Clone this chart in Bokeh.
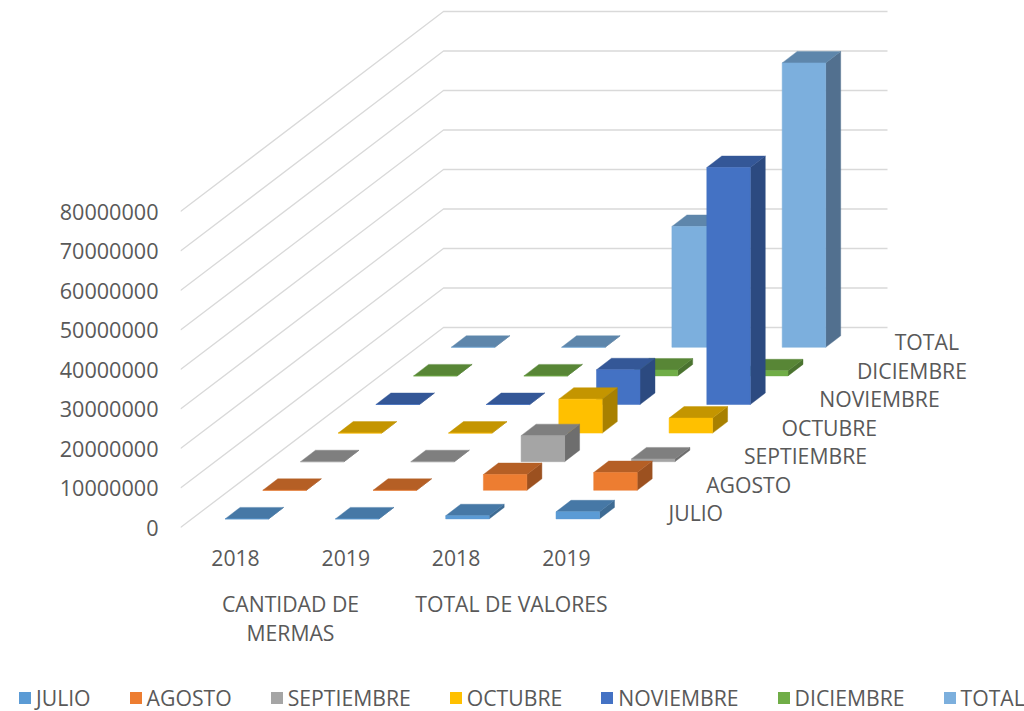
from bokeh.plotting import figure
from bokeh.layouts import column
from bokeh.models import Legend, LegendItem, FixedTicker, NumeralTickFormatter, Range1d
from bokeh.core.properties import value
from bokeh.embed import file_html
from bokeh.resources import INLINE

# ---- data ----
series = ["JULIO", "AGOSTO", "SEPTIEMBRE", "OCTUBRE", "NOVIEMBRE", "DICIEMBRE", "TOTAL"]
years = ["2018", "2019", "2018", "2019"]
group_labels = ["CANTIDAD DE", "MERMAS", "TOTAL DE VALORES"]
y_ticks = [0, 10000000, 20000000, 30000000, 40000000, 50000000, 60000000, 70000000, 80000000]

julio = [3000, 3200, 800000, 1800000]
agosto = [2800, 3000, 4000000, 4500000]
septiembre = [2700, 3100, 6600000, 700000]
octubre = [2900, 3300, 8600000, 3800000]
noviembre = [3100, 3000, 8800000, 60000000]
diciembre = [2600, 2900, 1500000, 1300000]
total = [17300, 18500, 30600000, 72000000]
values = [julio, agosto, septiembre, octubre, noviembre, diciembre, total]

# ---- styles ----
front = ["#5B9BD5", "#ED7D31", "#A5A5A5", "#FFC000", "#4472C4", "#70AD47", "#7CAFDD"]
top = ["#4678A6", "#B55F25", "#7F7F7F", "#C49500", "#345797", "#588636", "#5E86AB"]
side = ["#3E6B93", "#9C5120", "#6E6E6E", "#A88000", "#2C4A80", "#4A732F", "#52708F"]
FONT = "Open Sans"
TXT = "#595959"
FS = "21.2px"

# ---- oblique projection (reference pixels) ----
PX = 1e7 / 39.5           # value units per pixel
FLOOR_Y = 527
BAR_X0, BAR_Y0 = 224.6, 518.4
CAT_DX = 110.3
SER_DX, SER_DY = 37.7, 28.6
BAR_W, DEPTH_DX, DEPTH_DY = 43.5, 15, 11.5
WALL_X0, WALL_X1, WALL_X2 = 180, 443, 887
WALL_DY = 200
MAIN_H, LEGEND_H = 680, 31


def Y(pix):
    return (FLOOR_Y - pix) * PX


p = figure(width=1024, height=MAIN_H, output_backend="svg", toolbar_location=None,
           x_range=Range1d(WALL_X0, 1024), y_range=Range1d(Y(MAIN_H), Y(0)),
           min_border_left=WALL_X0, min_border_right=0, min_border_top=0, min_border_bottom=0,
           x_axis_location=None, outline_line_color=None)
p.frame_align = False
p.xgrid.visible = False
p.ygrid.visible = False
p.background_fill_color = None
p.border_fill_color = "white"

ax = p.yaxis[0]
ax.ticker = FixedTicker(ticks=y_ticks)
ax.formatter = NumeralTickFormatter(format="0")
ax.axis_line_color = None
ax.major_tick_line_color = None
ax.minor_tick_line_color = None
ax.major_tick_in = 0
ax.major_tick_out = 0
ax.major_label_standoff = 22
ax.major_label_text_font = FONT
ax.major_label_text_font_size = "21.6px"
ax.major_label_text_color = TXT

# gridlines: wall + left side
for v in y_ticks:
    p.line([WALL_X0, WALL_X1, WALL_X2], [v, v + WALL_DY * PX, v + WALL_DY * PX],
           line_color="#D9D9D9", line_width=1.3)

# bars, back to front
for s in range(len(series) - 1, -1, -1):
    tops_x, tops_y, sides_x, sides_y, fronts_x, fronts_y = [], [], [], [], [], []
    for c, val in enumerate(values[s]):
        x0 = BAR_X0 + c * CAT_DX + s * SER_DX
        x1 = x0 + BAR_W
        b = Y(BAR_Y0 - s * SER_DY)
        t = b + val
        dx, dy = DEPTH_DX, DEPTH_DY * PX
        fronts_x.append([x0, x1, x1, x0])
        fronts_y.append([b, b, t, t])
        tops_x.append([x0, x1, x1 + dx, x0 + dx])
        tops_y.append([t, t, t + dy, t + dy])
        sides_x.append([x1, x1 + dx, x1 + dx, x1])
        sides_y.append([b, b + dy, t + dy, t])
    p.patches(sides_x, sides_y, fill_color=side[s], line_color=side[s], line_alpha=0.5, line_width=0.8)
    p.patches(tops_x, tops_y, fill_color=top[s], line_color=top[s], line_alpha=0.5, line_width=0.8)
    p.patches(fronts_x, fronts_y, fill_color=front[s], line_color=front[s],
              line_alpha=0.5, line_width=1)

# category labels
cat_x = [235 + i * CAT_DX for i in range(len(years))]
p.text(cat_x, [Y(557)] * len(years), text=years, text_font=value(FONT), text_font_size=value(FS),
       text_color=TXT, text_align="center", text_baseline="middle")
p.text([290, 290, 511], [Y(603), Y(632), Y(603)], text=group_labels, text_font=value(FONT),
       text_font_size=value(FS), text_color=TXT, text_align="center", text_baseline="middle")

# depth axis labels
p.text([668 + i * SER_DX for i in range(len(series))],
       [Y(512 - i * 28.5) for i in range(len(series))],
       text=series, text_font=value(FONT), text_font_size=value(FS), text_color=TXT,
       text_align="left", text_baseline="middle")

# legend strip
q = figure(width=1024, height=LEGEND_H, output_backend="svg", toolbar_location=None,
           x_range=Range1d(0, 1024), y_range=Range1d(0, 1),
           min_border_left=0, min_border_right=0, min_border_top=0, min_border_bottom=0,
           x_axis_location=None, y_axis_location=None, outline_line_color=None)
q.frame_align = False
q.xgrid.visible = False
q.ygrid.visible = False
handles = [q.patches([[]], [[]], fill_color=front[s], line_color=None) for s in range(len(series))]
legend = Legend(items=[LegendItem(label=series[s], renderers=[handles[s]]) for s in range(len(series))],
                orientation="horizontal", location=(17, -1), border_line_color=None,
                background_fill_alpha=0, padding=0, margin=0, spacing=37,
                glyph_width=15, glyph_height=15, label_standoff=4,
                label_text_font=FONT, label_text_font_size=FS, label_text_color=TXT,
                label_height=20)
q.add_layout(legend)

open("out.html", "w").write(file_html(column(p, q, spacing=0), INLINE))
